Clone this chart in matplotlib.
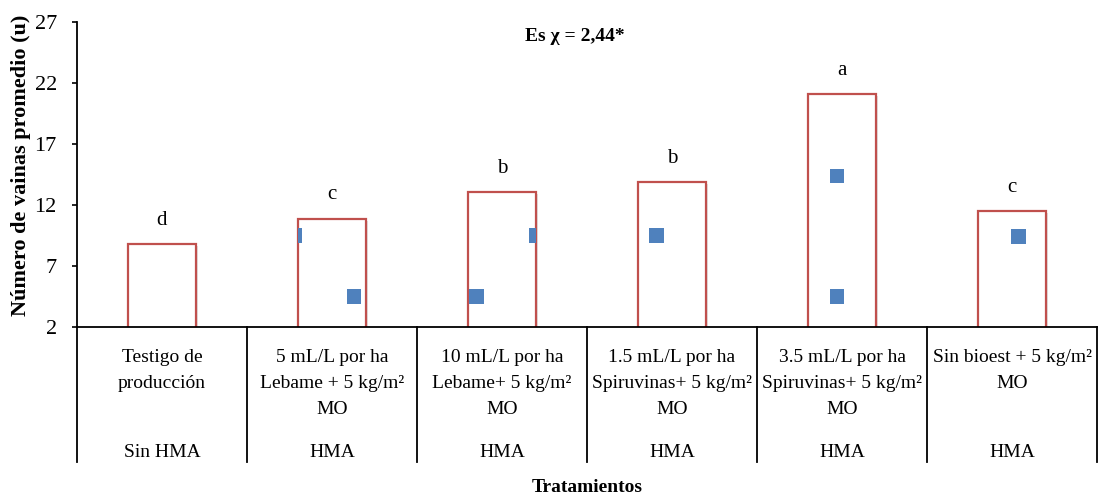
import matplotlib
matplotlib.use('Agg')
import matplotlib.pyplot as plt
import matplotlib.patheffects as pe
from matplotlib.transforms import blended_transform_factory

# ---- data ----
categories = [
    "Testigo de\nproducción",
    "5 mL/L por ha\nLebame + 5 kg/m²\nMO",
    "10 mL/L por ha\nLebame+ 5 kg/m²\nMO",
    "1.5 mL/L por ha\nSpiruvinas+ 5 kg/m²\nMO",
    "3.5 mL/L por ha\nSpiruvinas+ 5 kg/m²\nMO",
    "Sin bioest + 5 kg/m²\nMO",
]
groups = ["Sin HMA", "HMA", "HMA", "HMA", "HMA", "HMA"]
bar_values = [8.8, 10.9, 13.05, 13.9, 21.1, 11.5]
letters = ["d", "c", "b", "b", "a", "c"]
point_x = [0.78, 1.13, 1.85, 2.20, 2.91, 3.97, 3.97, 5.04]
point_y = [9.5, 4.5, 4.5, 9.5, 9.5, 14.4, 4.5, 9.4]
point_bar = [1, 1, 2, 2, 3, 4, 4, 5]
yticks = [2, 7, 12, 17, 22, 27]

plt.rcParams['font.family'] = ['Liberation Serif', 'DejaVu Serif']

fig = plt.figure(figsize=(10.98, 4.96), dpi=100)
ax = fig.add_axes([0.0701, 0.3407, 0.929, 0.6143])

xs = list(range(len(categories)))
bars = ax.bar(xs, bar_values, width=0.4, facecolor='white',
              edgecolor='#C0504D', linewidth=1.6, zorder=2)
for b in bars:
    b.set_path_effects([pe.SimplePatchShadow(offset=(1.5, -1.5), shadow_rgbFace='#888888', alpha=0.25),
                        pe.Normal()])

for px, py, pb in zip(point_x, point_y, point_bar):
    sc = ax.scatter([px], [py], marker='s', s=112, color='#4F81BD',
                    edgecolors='none', zorder=3)
    sc.set_clip_path(bars[pb])

for i, (v, l) in enumerate(zip(bar_values, letters)):
    ax.annotate(l, (i, v), xytext=(0, 17), textcoords='offset points',
                ha='center', va='center', fontsize=15)

ax.set_xlim(-0.5, len(categories) - 0.5)
ax.set_ylim(2, 27)
ax.set_yticks(yticks)
ax.set_xticks([])
ax.tick_params(axis='y', direction='out', length=3.5, width=1.2, pad=11, labelsize=16)
for s in ['top', 'right']:
    ax.spines[s].set_visible(False)
for s in ['left', 'bottom']:
    ax.spines[s].set_linewidth(1.3)
    ax.spines[s].set_color('black')

trans = blended_transform_factory(ax.transData, ax.transAxes)
for b in range(len(categories) + 1):
    ax.plot([b - 0.5, b - 0.5], [0, -0.443], transform=trans, color='black',
            linewidth=1.3, clip_on=False)

for i, (c, g) in enumerate(zip(categories, groups)):
    ax.annotate(c, xy=(i, 0), xycoords=trans, xytext=(0, -16),
                textcoords='offset points', ha='center', va='top',
                fontsize=14, linespacing=1.7)
    ax.annotate(g, xy=(i, 0), xycoords=trans, xytext=(0, -90),
                textcoords='offset points', ha='center', va='center',
                fontsize=14)

ax.text(0.488, 0.952, "Es χ = 2,44*", transform=ax.transAxes, ha='center',
        va='center', fontsize=14, fontweight='bold')

fig.text(0.5346, 0.018, "Tratamientos", ha='center', va='center',
         fontsize=14, fontweight='bold')
fig.text(0.019, 0.667, "Número de vainas promedio (u)", rotation=90,
         ha='center', va='center', fontsize=16, fontweight='bold')

fig.savefig('out.png', dpi=100)
